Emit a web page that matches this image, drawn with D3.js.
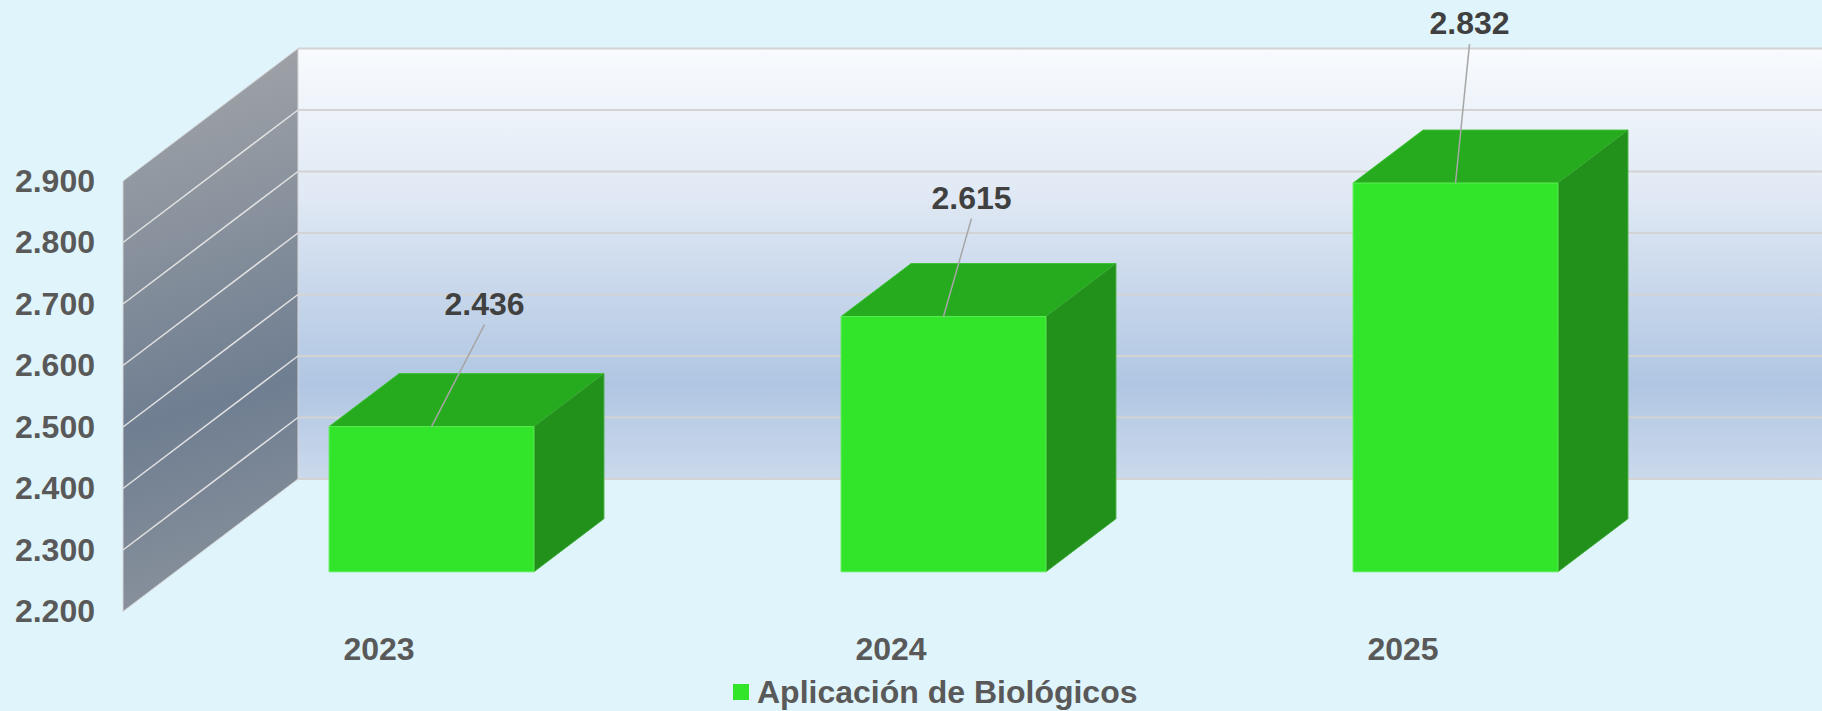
<!DOCTYPE html>
<html>

<head>
  <meta http-equiv="content-type" content="text/html; charset=utf-8">
  <title>Aplicación de Biológicos</title>
  <style>
    html, body { margin: 0; padding: 0; background: #e0f4fb; overflow: hidden; }
    svg#canvas { display: block; }
    text { font-family: "Liberation Sans", Arial, sans-serif; font-weight: bold; }
  </style>
</head>

<body>
  <svg id="canvas"></svg>

  <script src="https://d3js.org/d3.v7.min.js"></script>
  <script>

    // data
    const years = ["2023", "2024", "2025"];
    const values = [2436, 2615, 2832];
    const yTicks = [2200, 2300, 2400, 2500, 2600, 2700, 2800, 2900];
    const seriesName = "Aplicación de Biológicos";

    // layout (pixels)
    const W = 1822, H = 711;
    const front = { left: 123, right: 1659, bottom: 611.5, top: 181 };
    const depth = { dx: 175, dy: -132.5 };
    const barDepth = [0.3, 0.7];
    const labelShift = [[53, -112], [28, -108], [14, -149]];
    const fontSize = 32;
    const colors = { front: "#32e52a", top: "#26ab1e", side: "#21911c", text: "#595959", label: "#404040" };

    const loc = d3.formatLocale({ decimal: ",", thousands: ".", grouping: [3], currency: ["$", ""] });
    const fmt = loc.format(",d");

    const svg = d3.select("svg#canvas").attr("width", W).attr("height", H);

    const x = d3.scaleBand().domain(years).range([front.left, front.right])
      .paddingInner(0.6).paddingOuter(0.3);
    const y = d3.scaleLinear().domain([2200, 2900]).range([front.bottom, front.top]);

    const P = (px, py, t) => [px + depth.dx * t, py + depth.dy * t];
    const poly = pts => "M" + pts.map(p => p.join(",")).join("L") + "Z";

    const [y0, y1] = y.domain();

    const defs = svg.append("defs");
    const back = defs.append("linearGradient").attr("id", "backGrad")
      .attr("x1", 0).attr("y1", 0).attr("x2", 0).attr("y2", 1);
    [[0, "#f8fbfe"], [0.35, "#dfe8f4"], [0.78, "#b0c6e2"], [1, "#cbd9ec"]]
      .forEach(s => back.append("stop").attr("offset", s[0]).attr("stop-color", s[1]));
    const side = defs.append("linearGradient").attr("id", "sideGrad")
      .attr("gradientUnits", "userSpaceOnUse")
      .attr("x1", front.left).attr("y1", y(y1) + depth.dy)
      .attr("x2", front.left + depth.dx).attr("y2", y(y0));
    [[0, "#a5a7aa"], [0.62, "#6f7e91"], [1, "#8e959e"]]
      .forEach(s => side.append("stop").attr("offset", s[0]).attr("stop-color", s[1]));

    // back wall
    svg.append("path")
      .attr("d", poly([P(front.left, y(y1), 1), P(front.right, y(y1), 1), P(front.right, y(y0), 1), P(front.left, y(y0), 1)]))
      .attr("fill", "url(#backGrad)");

    // side wall
    svg.append("path")
      .attr("d", poly([[front.left, y(y0)], [front.left, y(y1)], P(front.left, y(y1), 1), P(front.left, y(y0), 1)]))
      .attr("fill", "url(#sideGrad)")
      .attr("stroke", "#d6d6d6").attr("stroke-width", 1);

    // gridlines
    svg.append("g").selectAll("path.grid").data(yTicks).enter().append("path")
      .attr("class", "grid")
      .attr("d", v => "M" + P(front.left, y(v), 1).join(",") + "L" + P(front.right, y(v), 1).join(","))
      .attr("stroke", "#d3d3d3").attr("stroke-width", 2).attr("fill", "none");
    svg.append("g").selectAll("path.sgrid").data(yTicks.slice(1, -1)).enter().append("path")
      .attr("class", "sgrid")
      .attr("d", v => "M" + [front.left, y(v)].join(",") + "L" + P(front.left, y(v), 1).join(","))
      .attr("stroke", "#e2e2e2").attr("stroke-width", 1.5).attr("fill", "none");

    // bars
    const bars = years.map((yr, i) => ({ year: yr, value: values[i], i: i }));
    const gb = svg.append("g").selectAll("g.bar").data(bars).enter().append("g").attr("class", "bar");
    const bw = x.bandwidth();
    const [t0, t1] = barDepth;

    gb.append("path")
      .attr("d", d => {
        const a = x(d.year), b = a + bw, top = y(d.value);
        return poly([P(a, top, t0), P(a, top, t1), P(b, top, t1), P(b, top, t0)]);
      })
      .attr("fill", colors.top).attr("stroke", "#3cc234").attr("stroke-width", 1);
    gb.append("path")
      .attr("d", d => {
        const b = x(d.year) + bw, top = y(d.value);
        return poly([P(b, top, t0), P(b, top, t1), P(b, y(y0), t1), P(b, y(y0), t0)]);
      })
      .attr("fill", colors.side).attr("stroke", "#3aa833").attr("stroke-width", 1);
    gb.append("path")
      .attr("d", d => {
        const a = x(d.year), b = a + bw, top = y(d.value);
        return poly([P(a, top, t0), P(b, top, t0), P(b, y(y0), t0), P(a, y(y0), t0)]);
      })
      .attr("fill", colors.front).attr("stroke", "#5aec52").attr("stroke-width", 1);

    // data labels with leader lines
    const anchor = d => P(x(d.year) + bw / 2, y(d.value), t0);
    gb.append("line")
      .attr("x1", d => anchor(d)[0] + labelShift[d.i][0])
      .attr("y1", d => anchor(d)[1] + labelShift[d.i][1] + 10)
      .attr("x2", d => anchor(d)[0])
      .attr("y2", d => anchor(d)[1])
      .attr("stroke", "#a6a6a6").attr("stroke-width", 1.5);
    gb.append("text")
      .attr("x", d => anchor(d)[0] + labelShift[d.i][0])
      .attr("y", d => anchor(d)[1] + labelShift[d.i][1])
      .attr("text-anchor", "middle")
      .attr("font-size", fontSize)
      .attr("fill", colors.label)
      .text(d => fmt(d.value));

    // axes
    const ya = svg.append("g")
      .attr("transform", "translate(" + front.left + ",0)")
      .call(d3.axisLeft(y).tickValues(yTicks).tickSize(0).tickPadding(28).tickFormat(fmt));
    ya.select(".domain").remove();
    ya.selectAll("text").attr("font-size", fontSize).attr("fill", colors.text)
      .style("font-family", "'Liberation Sans', Arial, sans-serif").style("font-weight", "bold");

    const xa = svg.append("g")
      .attr("transform", "translate(0," + front.bottom + ")")
      .call(d3.axisBottom(x).tickSize(0).tickPadding(26));
    xa.select(".domain").remove();
    xa.selectAll("text").attr("font-size", fontSize).attr("fill", colors.text)
      .style("font-family", "'Liberation Sans', Arial, sans-serif").style("font-weight", "bold");

    // legend
    const lg = svg.append("g").attr("transform", "translate(733,684)");
    lg.append("rect").attr("width", 16).attr("height", 16).attr("fill", colors.front);
    lg.append("text").attr("x", 24).attr("y", 19)
      .attr("font-size", fontSize).attr("fill", colors.text)
      .text(seriesName);

  </script>
</body>

</html>
